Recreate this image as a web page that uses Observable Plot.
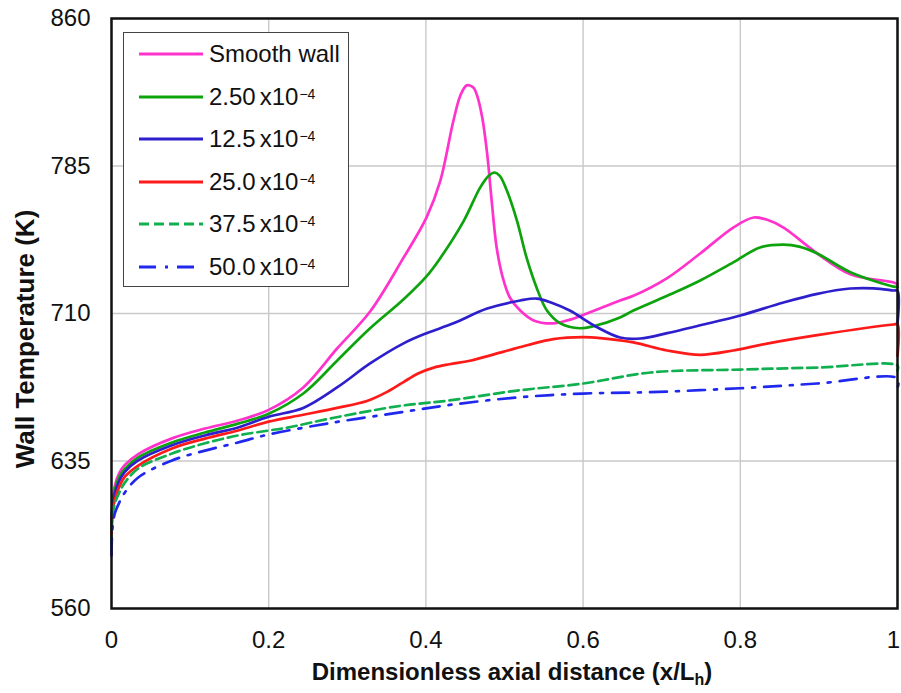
<!DOCTYPE html>
<html><head><meta charset="utf-8">
<script src="https://cdn.jsdelivr.net/npm/d3@7"></script>
<script src="https://cdn.jsdelivr.net/npm/@observablehq/plot@0.6"></script>
<style>
body{margin:0;background:#fff;}
#wrap{position:relative;width:901px;height:693px;font-family:"Liberation Sans",Arial,sans-serif;}
#legend{position:absolute;left:123px;top:32px;width:226px;height:255px;border:1.3px solid #444;background:#fff;box-sizing:border-box;}
.row{position:absolute;left:0;height:30px;display:flex;align-items:center;font-size:24px;color:#111;white-space:nowrap;}
.row svg{margin-left:14px;margin-right:5px;}
.row sup{font-size:14px;position:relative;top:-3px;vertical-align:top;margin-left:1px;}
.row .x{margin-left:4px;}
</style>
</head><body>
<div id="wrap"><div id="legend"></div></div>
<script>
// ---- data ----
const seriesNames = ["Smooth wall","2.50","12.5","25.0","37.5","50.0"];
const seriesColors = ["#ff33cc","#0da30d","#2e1fcc","#ff1a1a","#10b050","#2028ee"];
const seriesDash = [null,null,null,null,"10,5","17,9,3,9"];
const xTicks = [0,0.2,0.4,0.6,0.8,1];
const yTicks = [560,635,710,785,860];

const smoothWall = [[0,595],[0.001,612],[0.004,622],[0.01,629],[0.017,633],[0.034,638.5],[0.077,646.5],[0.119,651.5],[0.161,655.6],[0.2,661],[0.244,672.4],[0.287,692.2],[0.329,711],[0.371,738],[0.401,759],[0.418,777],[0.435,808],[0.444,821],[0.452,826],[0.46,825],[0.465,821],[0.4715,810],[0.478,791],[0.484,766],[0.49,743.6],[0.498,728],[0.507,718],[0.52,711.5],[0.537,706.5],[0.562,705],[0.58,706.5],[0.605,710],[0.647,716.6],[0.664,719],[0.707,728],[0.749,740.5],[0.791,753.7],[0.817,758.8],[0.835,757.5],[0.855,753.7],[0.898,740.5],[0.94,730],[0.995,725.8],[1,725]];
const rough250 = [[0,595],[0.001,611],[0.004,620],[0.01,627],[0.017,631],[0.034,636.8],[0.077,644.4],[0.119,649.5],[0.161,654],[0.2,659],[0.244,669.3],[0.287,686],[0.329,702.5],[0.371,717],[0.401,729],[0.418,738],[0.448,757],[0.469,774],[0.48,780],[0.487,781.7],[0.494,780],[0.503,772.5],[0.516,757],[0.528,738.5],[0.541,723],[0.554,711.5],[0.571,705],[0.596,702.5],[0.613,703.5],[0.647,708],[0.664,711.5],[0.707,719],[0.749,726.8],[0.791,736],[0.825,743.6],[0.855,745],[0.875,744],[0.898,740.5],[0.94,731],[0.995,723.7],[1,723.5]];
const rough125 = [[0,593],[0.001,610],[0.004,618],[0.01,625],[0.017,629.5],[0.034,635.3],[0.077,643],[0.119,648],[0.161,652],[0.2,657.5],[0.244,662],[0.287,672.4],[0.329,684.6],[0.371,694.7],[0.401,700],[0.435,705],[0.478,712.5],[0.52,716.6],[0.541,717.6],[0.56,715.5],[0.583,711.5],[0.618,703],[0.647,697.8],[0.673,697.3],[0.707,700],[0.749,704],[0.8,709],[0.855,715.6],[0.898,720],[0.94,722.7],[0.97,722.8],[0.995,721.7],[1,721.5],[1,705]];
const rough250b = [[0,592],[0.001,608],[0.004,615],[0.01,622],[0.017,627],[0.034,632.7],[0.077,641.4],[0.119,646.4],[0.161,650.5],[0.2,655],[0.244,658.5],[0.287,662],[0.325,665.5],[0.35,670],[0.371,675],[0.39,679.5],[0.41,682.5],[0.43,684.2],[0.456,686],[0.498,690.5],[0.53,694],[0.562,697],[0.6,698],[0.622,697.5],[0.664,695.3],[0.707,691.2],[0.749,689],[0.791,691.2],[0.834,694.7],[0.898,699],[0.995,704.4],[1,704.5],[1,688.6]];
const rough375 = [[0,592],[0.001,606],[0.004,613],[0.01,619],[0.017,624],[0.034,631.2],[0.077,638.8],[0.119,644],[0.161,648],[0.2,650.5],[0.224,652],[0.283,657],[0.367,663],[0.43,665.8],[0.516,670.8],[0.6,674.4],[0.686,680],[0.8,681.5],[0.898,682.5],[1,683.6],[1,681]];
const rough500 = [[0,587],[0.001,600],[0.004,608],[0.01,614],[0.017,619],[0.034,626.6],[0.077,635.3],[0.119,640.3],[0.161,644.4],[0.2,648.5],[0.283,654.6],[0.367,659.7],[0.43,663.5],[0.516,667.3],[0.6,669.3],[0.686,670],[0.8,672],[0.898,674.4],[1,677],[1,672]];
const seriesData = [smoothWall, rough250, rough125, rough250b, rough375, rough500];

// ---- chart ----
const font = '"Liberation Sans", Arial, sans-serif';
const lineMarks = seriesData.map((pts, i) => Plot.line(pts, {
  x: d => d[0], y: d => d[1],
  stroke: seriesColors[i], strokeWidth: 2.7,
  strokeDasharray: seriesDash[i] || undefined,
  curve: "catmull-rom"
}));

const chart = Plot.plot({
  width: 901, height: 693,
  marginLeft: 111, marginRight: 4, marginTop: 18, marginBottom: 85,
  style: {fontFamily: font, fontSize: "23px", color: "#111", background: "#fff"},
  x: {domain: [0, 1]},
  y: {domain: [560, 860]},
  marks: [
    Plot.gridX(xTicks, {stroke: "#c9c9c9", strokeOpacity: 1, strokeWidth: 1.4}),
    Plot.gridY(yTicks, {stroke: "#c9c9c9", strokeOpacity: 1, strokeWidth: 1.4}),
    Plot.axisX(xTicks.slice(0, -1), {tickSize: 0, tickPadding: 22, label: null, tickFormat: d => String(d), fontSize: 24}),
    Plot.axisX(xTicks.slice(-1), {tickSize: 0, tickPadding: 22, label: null, tickFormat: d => String(d), fontSize: 24, dx: -4}),
    Plot.axisY(yTicks, {tickSize: 0, tickPadding: 21, label: null, fontSize: 24}),
    ...lineMarks,
    Plot.frame({stroke: "#111", strokeWidth: 2.5})
  ]
});
document.getElementById("wrap").prepend(chart);

// axis titles
const svg = d3.select(chart);
svg.append("text")
  .attr("transform", "translate(34,339) rotate(-90)")
  .attr("text-anchor", "middle")
  .attr("font-weight", "bold").attr("font-size", 26).attr("fill", "#111")
  .attr("font-family", font)
  .text("Wall Temperature (K)");
const xt = svg.append("text")
  .attr("x", 512).attr("y", 680)
  .attr("text-anchor", "middle")
  .attr("font-weight", "bold").attr("font-size", 24).attr("fill", "#111")
  .attr("font-family", font);
xt.append("tspan").text("Dimensionless axial distance (x/L");
xt.append("tspan").attr("font-size", 16).attr("dy", 5).text("h");
xt.append("tspan").attr("dy", -5).text(")");

// legend
const legend = document.getElementById("legend");
const rowCenters = [21, 64, 106, 149, 191, 234];
seriesNames.forEach((name, i) => {
  const row = document.createElement("div");
  row.className = "row";
  row.style.top = (rowCenters[i] - 15) + "px";
  const dash = seriesDash[i] ? ` stroke-dasharray="${seriesDash[i]}"` : "";
  row.innerHTML = `<svg width="66" height="10"><line x1="1" y1="5" x2="65" y2="5" stroke="${seriesColors[i]}" stroke-width="3"${dash}/></svg>` +
    (i === 0 ? `<span>${name}</span>` : `<span>${name}</span><span class="x">x10</span><sup>\u22124</sup>`);
  legend.appendChild(row);
});
</script>
</body></html>
